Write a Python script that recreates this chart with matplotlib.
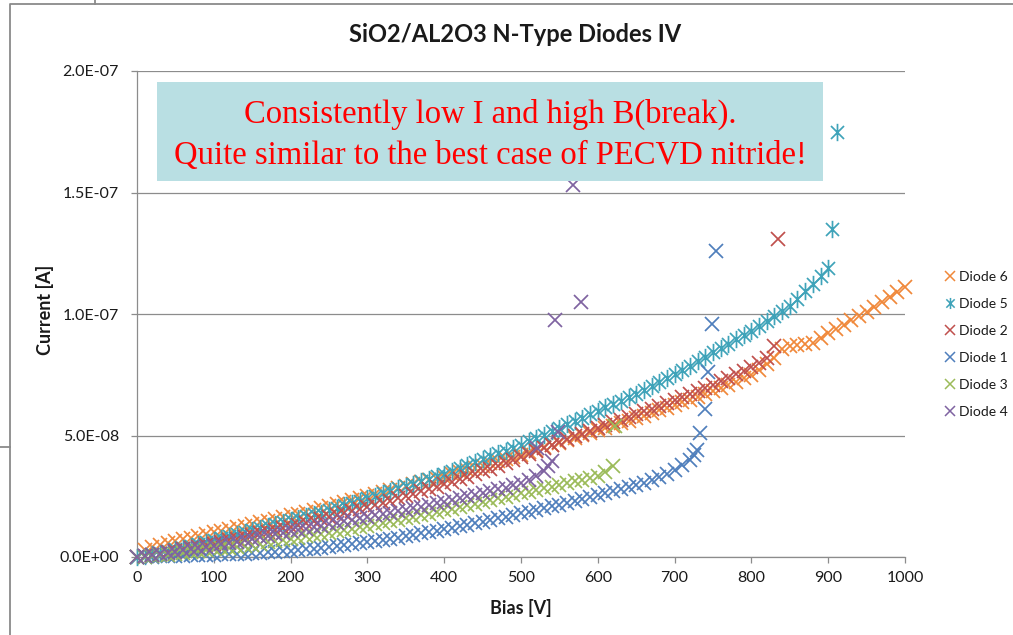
import matplotlib
matplotlib.use("Agg")
import matplotlib.pyplot as plt
from matplotlib.lines import Line2D
from matplotlib.patches import Rectangle
from matplotlib.path import Path
from matplotlib.ticker import FuncFormatter

# ---------------- data (bias in V, current in units of 1e-8 A) ----------------
series_names = ["Diode 6", "Diode 5", "Diode 2", "Diode 1", "Diode 3", "Diode 4"]

d6_bias = list(range(0, 1001, 10))
d6_curr = [0.00, 0.30, 0.42, 0.50, 0.58, 0.66, 0.73, 0.80, 0.87, 0.94,
           1.01, 1.08, 1.15, 1.22, 1.29, 1.36, 1.43, 1.50, 1.57, 1.64,
           1.71, 1.79, 1.87, 1.95, 2.03, 2.11, 2.19, 2.27, 2.35, 2.43,
           2.51, 2.59, 2.67, 2.75, 2.83, 2.91, 2.99, 3.07, 3.15, 3.23,
           3.31, 3.40, 3.49, 3.58, 3.67, 3.76, 3.85, 3.94, 4.03, 4.12,
           4.21, 4.31, 4.41, 4.51, 4.61, 4.71, 4.81, 4.91, 5.01, 5.11,
           5.21, 5.31, 5.41, 5.51, 5.61, 5.71, 5.82, 5.93, 6.04, 6.15,
           6.26, 6.37, 6.48, 6.59, 6.70, 6.82, 6.95, 7.08, 7.22, 7.36,
           7.50, 7.70, 7.95, 8.20, 8.55, 8.70, 8.72, 8.75, 8.82, 9.00,
           9.20, 9.38, 9.56, 9.74, 9.92, 10.10, 10.30, 10.50, 10.70, 10.90,
           11.10]

d5_bias = list(range(0, 901, 10)) + [905, 911]
d5_curr = [0.00, 0.06, 0.12, 0.18, 0.24, 0.31, 0.39, 0.47, 0.55, 0.63,
           0.71, 0.79, 0.87, 0.95, 1.03, 1.11, 1.19, 1.27, 1.35, 1.43,
           1.51, 1.59, 1.67, 1.75, 1.83, 1.92, 2.02, 2.12, 2.22, 2.32,
           2.42, 2.52, 2.62, 2.72, 2.82, 2.92, 3.02, 3.12, 3.22, 3.32,
           3.42, 3.54, 3.66, 3.78, 3.90, 4.02, 4.14, 4.26, 4.38, 4.50,
           4.62, 4.76, 4.90, 5.04, 5.18, 5.32, 5.46, 5.60, 5.74, 5.88,
           6.02, 6.16, 6.30, 6.44, 6.58, 6.72, 6.88, 7.04, 7.20, 7.36,
           7.52, 7.70, 7.88, 8.06, 8.24, 8.42, 8.60, 8.78, 8.96, 9.14,
           9.32, 9.52, 9.72, 9.92, 10.12, 10.32, 10.62, 10.95, 11.25, 11.55,
           11.90, 13.50, 17.50]

d2_bias = list(range(0, 831, 10)) + [835]
d2_curr = [0.00, 0.04, 0.09, 0.14, 0.19, 0.25, 0.31, 0.37, 0.43, 0.49,
           0.55, 0.62, 0.69, 0.76, 0.83, 0.90, 0.97, 1.04, 1.11, 1.18,
           1.25, 1.33, 1.41, 1.49, 1.57, 1.65, 1.73, 1.81, 1.89, 1.97,
           2.05, 2.14, 2.23, 2.32, 2.41, 2.50, 2.60, 2.70, 2.80, 2.90,
           3.00, 3.10, 3.20, 3.31, 3.42, 3.53, 3.64, 3.76, 3.88, 4.00,
           4.12, 4.24, 4.36, 4.48, 4.60, 4.72, 4.84, 4.96, 5.08, 5.20,
           5.32, 5.43, 5.54, 5.65, 5.76, 5.87, 5.99, 6.11, 6.23, 6.35,
           6.47, 6.59, 6.71, 6.83, 6.96, 7.09, 7.23, 7.37, 7.52, 7.67,
           7.83, 8.00, 8.20, 8.70, 13.10]

d1_bias = list(range(0, 721, 10)) + [725, 729, 733, 740, 744, 749, 754]
d1_curr = [0.00, 0.01, 0.02, 0.03, 0.04, 0.05, 0.06, 0.07, 0.08, 0.09,
           0.10, 0.11, 0.12, 0.13, 0.14, 0.15, 0.17, 0.19, 0.21, 0.23,
           0.25, 0.28, 0.31, 0.34, 0.37, 0.40, 0.44, 0.48, 0.52, 0.56,
           0.60, 0.65, 0.70, 0.75, 0.80, 0.85, 0.91, 0.97, 1.03, 1.09,
           1.15, 1.21, 1.27, 1.33, 1.39, 1.45, 1.52, 1.59, 1.66, 1.73,
           1.80, 1.87, 1.94, 2.01, 2.08, 2.15, 2.23, 2.31, 2.39, 2.47,
           2.55, 2.63, 2.71, 2.79, 2.87, 2.95, 3.05, 3.16, 3.28, 3.42,
           3.58, 3.78, 4.00, 4.20, 4.40, 5.10, 6.10, 7.60, 9.60, 12.60]

d3_bias = list(range(0, 621, 10)) + [622]
d3_curr = [0.00, 0.02, 0.04, 0.07, 0.10, 0.13, 0.16, 0.19, 0.23, 0.27,
           0.31, 0.35, 0.39, 0.43, 0.47, 0.51, 0.55, 0.60, 0.65, 0.70,
           0.75, 0.80, 0.85, 0.90, 0.95, 1.00, 1.05, 1.11, 1.17, 1.23,
           1.29, 1.35, 1.41, 1.47, 1.53, 1.59, 1.65, 1.71, 1.78, 1.85,
           1.92, 1.99, 2.06, 2.13, 2.20, 2.27, 2.34, 2.41, 2.48, 2.55,
           2.62, 2.69, 2.76, 2.83, 2.90, 2.97, 3.04, 3.11, 3.18, 3.26,
           3.35, 3.50, 3.75, 5.40]

d4_bias = list(range(0, 521, 10)) + [521, 530, 535, 540, 548, 544, 568, 578]
d4_curr = [0.00, 0.04, 0.08, 0.12, 0.17, 0.22, 0.27, 0.32, 0.37, 0.42,
           0.47, 0.52, 0.57, 0.63, 0.69, 0.75, 0.81, 0.87, 0.93, 0.99,
           1.05, 1.11, 1.17, 1.23, 1.29, 1.35, 1.41, 1.47, 1.53, 1.59,
           1.65, 1.71, 1.77, 1.83, 1.89, 1.95, 2.01, 2.07, 2.14, 2.21,
           2.28, 2.35, 2.42, 2.49, 2.56, 2.63, 2.70, 2.78, 2.86, 2.95,
           3.05, 3.17, 3.32, 4.50, 3.55, 3.75, 3.95, 5.15, 9.75, 15.30,
           10.50]

CURRENT_UNIT = 1e-8

x_ticks = list(range(0, 1001, 100))
y_ticks = [0.0, 5e-8, 1e-7, 1.5e-7, 2e-7]

# ---------------- styling ----------------
W, H = 1013, 635
colors = ["#F0883A", "#3FA3B9", "#C0504D", "#4F7FBC", "#9BBB59", "#7F63A1"]
base_font = "Lato"
grey = "#8C8C8C"
text_col = "#1A1A1A"

star = Path([(0, -1), (0, 1), (-0.75, -0.75), (0.75, 0.75), (-0.75, 0.75), (0.75, -0.75)],
            [Path.MOVETO, Path.LINETO, Path.MOVETO, Path.LINETO, Path.MOVETO, Path.LINETO])
markers = ["x", star, "x", "x", "x", "x"]
marker_sizes = [10.5, 12.5, 10.5, 10.5, 10.5, 10.5]

fig = plt.figure(figsize=(W / 100, H / 100), dpi=100)
fig.patch.set_facecolor("white")


def fx(px):
    return px / W


def fy(py):
    return 1 - py / H


ax = fig.add_axes([fx(137), fy(557), fx(905) - fx(137), fy(71) - fy(557)])

data = [(d6_bias, d6_curr), (d5_bias, d5_curr), (d2_bias, d2_curr),
        (d1_bias, d1_curr), (d3_bias, d3_curr), (d4_bias, d4_curr)]

for (b, c), name, col, mk, ms in zip(data, series_names, colors, markers, marker_sizes):
    ax.plot(b, [v * CURRENT_UNIT for v in c], linestyle="none", marker=mk,
            markersize=ms, markeredgewidth=1.25, color=col, label=name,
            clip_on=False, zorder=3)

ax.set_xlim(0, 1000)
ax.set_ylim(0, 2e-7)
ax.set_xticks(x_ticks)
ax.set_yticks(y_ticks)
ax.yaxis.set_major_formatter(FuncFormatter(lambda v, p: format(v, ".1E")))

for s in ["top", "right"]:
    ax.spines[s].set_visible(False)
for s in ["left", "bottom"]:
    ax.spines[s].set_color(grey)
    ax.spines[s].set_linewidth(0.9)
ax.grid(axis="y", color=grey, linewidth=0.9, zorder=0)
ax.set_axisbelow(True)
ax.tick_params(axis="both", direction="out", length=4, width=0.9, color=grey,
               labelsize=11.5, labelcolor=text_col)
ax.tick_params(axis="y", pad=9)
ax.tick_params(axis="x", pad=6)
for lab in ax.get_xticklabels() + ax.get_yticklabels():
    lab.set_fontfamily(base_font)

# titles and axis labels
fig.text(fx(515), fy(35), "SiO2/AL2O3 N-Type Diodes IV", ha="center", va="center",
         fontsize=17, fontweight="bold", fontfamily=base_font, color=text_col)
fig.text(fx(521), fy(608), "Bias [V]", ha="center", va="center",
         fontsize=13, fontweight="bold", fontfamily=base_font, color=text_col)
fig.text(fx(45), fy(310), "Current [A]", ha="center", va="center", rotation=90,
         fontsize=13, fontweight="bold", fontfamily=base_font, color=text_col)

# legend
handles = [Line2D([], [], linestyle="none", marker=mk, color=col,
                  markersize=(8 if mk is star else 7), markeredgewidth=1.1)
           for col, mk in zip(colors, markers)]
leg = fig.legend(handles, series_names, loc="upper left",
                 bbox_to_anchor=(fx(945), fy(271)), frameon=False,
                 handlelength=0.7, handletextpad=0.3, labelspacing=1.08,
                 borderaxespad=0, borderpad=0,
                 prop={"family": base_font, "size": 10})
for t in leg.get_texts():
    t.set_color(text_col)

# annotation box
fig.patches.append(Rectangle((fx(157), fy(181)), fx(823) - fx(157), fy(82) - fy(181),
                             transform=fig.transFigure, facecolor="#B9DFE3",
                             edgecolor="none", zorder=10))
fig.text(fx(490), fy(114), "Consistently low I and high B(break).", ha="center",
         va="center", fontsize=23.5, color="#FF0000", fontfamily="Liberation Serif",
         zorder=11)
fig.text(fx(490), fy(156), "Quite similar to the best case of PECVD nitride!",
         ha="center", va="center", fontsize=23.5, color="#FF0000",
         fontfamily="Liberation Serif", zorder=11)

# chart-area frame
frame_kw = dict(transform=fig.transFigure, color="#8A8A8A", linewidth=1.3)
fig.add_artist(Line2D([fx(10), fx(10), fx(W)], [fy(H), fy(4), fy(4)], **frame_kw))
fig.add_artist(Line2D([fx(95), fx(95)], [fy(0), fy(4)], **frame_kw))
fig.add_artist(Line2D([fx(0), fx(10)], [fy(447), fy(447)], **frame_kw))

fig.savefig("out.png", dpi=100)
